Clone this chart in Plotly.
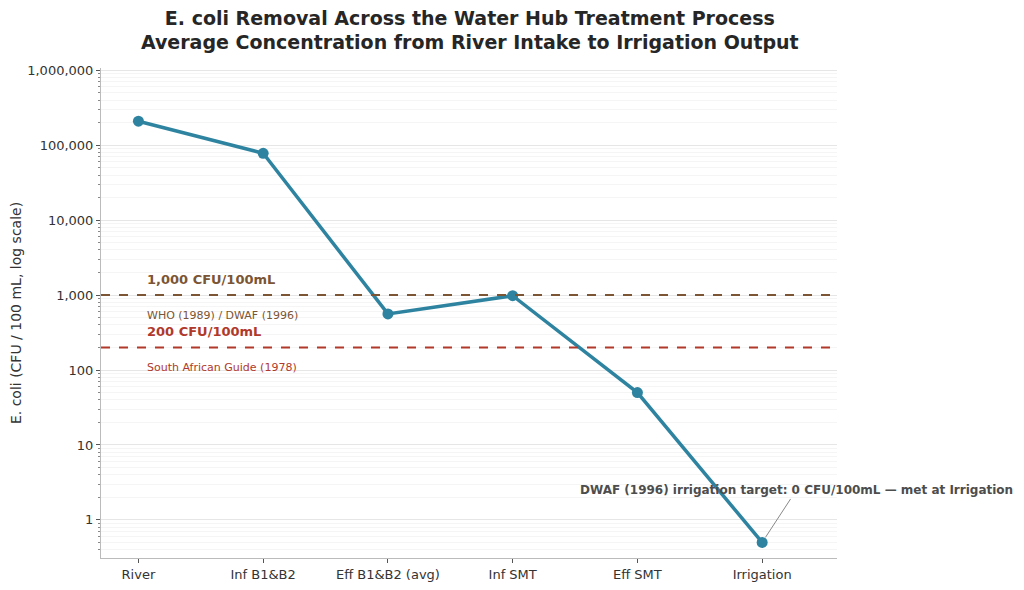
import math
import plotly.graph_objects as go

# Average E. coli concentration at each stage (CFU / 100 mL)
stages = ['River', 'Inf B1&B2', 'Eff B1&B2 (avg)', 'Inf SMT', 'Eff SMT', 'Irrigation']
ecoli = [209000, 78000, 560, 980, 50, 0.5]

# guideline limits
limit_values = [1000, 200]
limit_labels = ['1,000 CFU/100mL', '200 CFU/100mL']
limit_sources = ['WHO (1989) / DWAF (1996)', 'South African Guide (1978)']
limit_colors = ['#7B5534', '#B0392B']

y_ticks = [1, 10, 100, 1000, 10000, 100000, 1000000]
y_ticktext = ['1', '10', '100', '1,000', '10,000', '100,000', '1,000,000']

LINE_COLOR = '#2E84A0'
FONT = 'DejaVu Sans'

fig = go.Figure()
fig.add_trace(go.Scatter(x=list(range(len(stages))), y=ecoli, mode='lines+markers',
                         line=dict(color=LINE_COLOR, width=3.5),
                         marker=dict(color=LINE_COLOR, size=11),
                         showlegend=False, cliponaxis=False))

for val, label, src, col in zip(limit_values, limit_labels, limit_sources, limit_colors):
    fig.add_shape(type='line', xref='paper', x0=0, x1=1, y0=val, y1=val,
                  line=dict(color=col, width=2, dash='dash'))
    fig.add_annotation(x=0.05, y=math.log10(val) + 0.21, text='<b>%s</b>' % label,
                       showarrow=False, xanchor='left', yanchor='middle',
                       font=dict(family=FONT, size=13, color=col))
    fig.add_annotation(x=0.05, y=math.log10(val) - 0.27, text=src,
                       showarrow=False, xanchor='left', yanchor='middle',
                       font=dict(family=FONT, size=11, color=col))

fig.add_annotation(x=5, y=math.log10(ecoli[-1]),
                   text='<b>DWAF (1996) irrigation target: 0 CFU/100mL \u2014 met at Irrigation</b>',
                   showarrow=True, arrowhead=0, arrowwidth=1, arrowcolor='#888888',
                   ax=34, ay=-52, standoff=6,
                   font=dict(family=FONT, size=12, color='#4D4D4D'))

fig.update_xaxes(tickvals=list(range(len(stages))), ticktext=stages, range=[-0.3, 5.6],
                 showgrid=False, showline=True, linecolor='#BBBBBB', linewidth=1,
                 ticks='outside', ticklen=4, tickcolor='#555555',
                 tickfont=dict(family=FONT, size=13, color='#333333'), zeroline=False)
fig.update_yaxes(type='log', range=[math.log10(0.31), 6.03], automargin=False,
                 tickvals=y_ticks, ticktext=y_ticktext,
                 showgrid=True, gridcolor='#E6E6E6', gridwidth=1,
                 showline=True, linecolor='#BBBBBB', linewidth=1,
                 ticks='outside', ticklen=4, tickcolor='#555555',
                 minor=dict(ticks='outside', ticklen=2, tickcolor='#888888',
                            showgrid=True, gridcolor='#F5F5F5', dtick='D1'),
                 tickfont=dict(family=FONT, size=13, color='#333333'),
                 title=dict(text='E. coli (CFU / 100 mL, log scale)',
                            font=dict(family=FONT, size=14, color='#333333')),
                 zeroline=False)

# page has an 8px body margin, so margins are shifted back by that much
fig.update_layout(
    width=1024, height=590,
    margin=dict(l=93, r=195, t=60, b=40),
    paper_bgcolor='white', plot_bgcolor='white',
    title=dict(text='<b>E. coli Removal Across the Water Hub Treatment Process<br>'
                    'Average Concentration from River Intake to Irrigation Output</b>',
               x=0.451, xanchor='center', y=0.972, yanchor='top',
               font=dict(family=FONT, size=19, color='#262626')),
)

fig.write_html('out.html')
